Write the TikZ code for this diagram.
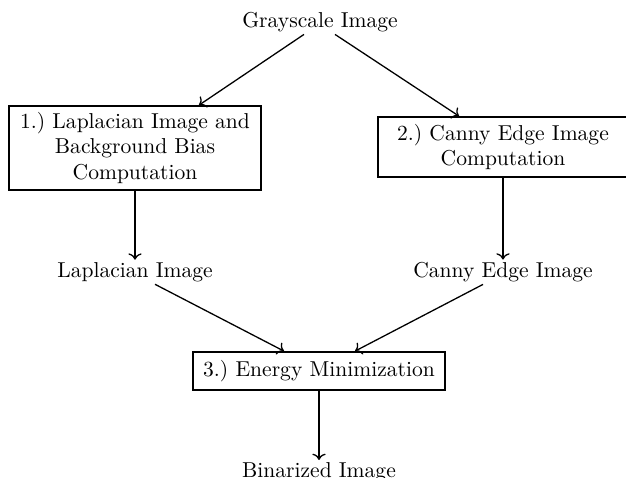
\documentclass[tikz,border=0pt]{standalone}
\usetikzlibrary{arrows.meta}
\begin{document}
\begin{tikzpicture}[x=0.4638pt,y=-0.4638pt,
  txt/.style={inner sep=1pt,font=\normalsize},
  box/.style={draw,line width=0.8pt,inner sep=0pt,align=center,font=\normalsize},
  arr/.style={->,line width=0.6pt}]
\useasboundingbox (0,0) rectangle (626,478);
\node[txt] (gray) at (320,22) {Grayscale Image};
\node[box,minimum width=116.88pt,minimum height=38.96pt] (b1) at (135,148)
  {1.)\ Laplacian Image and\\Background Bias\\Computation};
\node[box,minimum width=115.95pt,minimum height=27.83pt] (b2) at (503,147)
  {2.)\ Canny Edge Image\\Computation};
\node[txt] (lap) at (135,272) {Laplacian Image};
\node[txt] (can) at (503,272) {Canny Edge Image};
\node[box,minimum width=116.88pt,minimum height=17.62pt] (b3) at (319,371)
  {3.)\ Energy Minimization};
\node[txt,anchor=north] (bin) at (319,460) {Binarized Image};
\draw[arr] ([xshift=-7.42pt]gray.south) -- ([xshift=29.68pt]b1.north);
\draw[arr] ([xshift=6.96pt]gray.south) -- ([xshift=-20.41pt]b2.north);
\draw[arr] (b1.south) -- (lap.north);
\draw[arr] (b2.south) -- (can.north);
\draw[arr] ([xshift=9.28pt]lap.south) -- ([xshift=-16.23pt]b3.north);
\draw[arr] ([xshift=-9.28pt]can.south) -- ([xshift=16.70pt]b3.north);
\draw[arr] (b3.south) -- (bin.north);
\end{tikzpicture}
\end{document}
